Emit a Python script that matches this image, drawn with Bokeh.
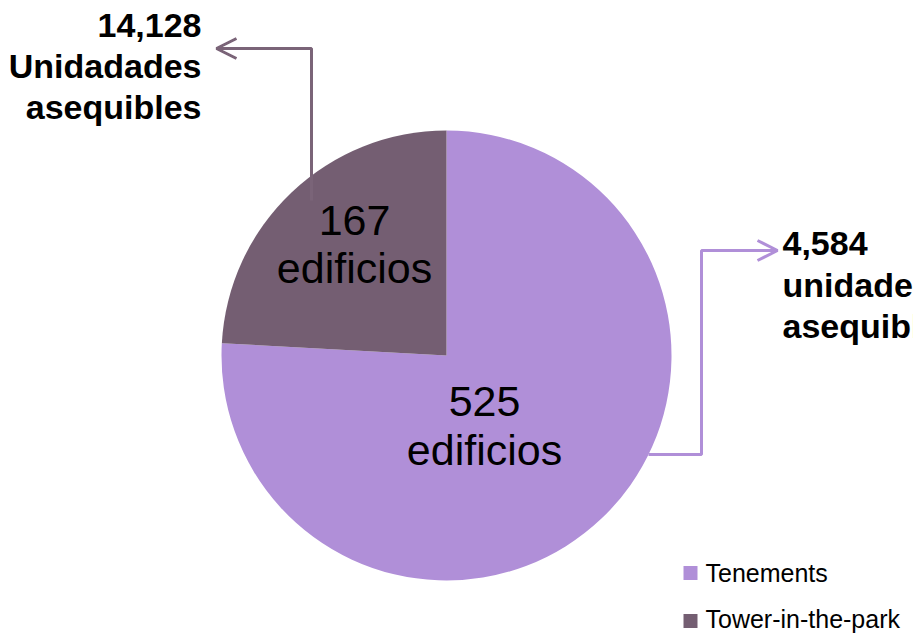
import math
from bokeh.plotting import figure
from bokeh.models import Range1d, ColumnDataSource, Arrow, OpenHead
from bokeh.core.properties import value
from bokeh.embed import file_html
from bokeh.resources import INLINE

# ---- data ----
categories = ["Tenements", "Tower-in-the-park"]
buildings = [525, 167]
units = [4584, 14128]
colors = ["#B08FD8", "#745E72"]
unit_label = ["unidades", "Unidadades"]
unit_label2 = ["asequibles", "asequibles"]
bld_label = "edificios"

W, H = 913, 642
FONT = "Liberation Sans"

p = figure(width=W, height=H, output_backend="svg", toolbar_location=None,
           x_range=Range1d(0, W), y_range=Range1d(0, H), min_border=0)
p.axis.visible = False
p.grid.visible = False
p.outline_line_color = None
p.background_fill_color = "white"

cx, cy, R = 446, 287, 225
total = sum(buildings)
# tower slice starts at top going counter-clockwise
tower_frac = buildings[1] / total
a0 = math.pi / 2
a1 = a0 + 2 * math.pi * tower_frac
starts = [a1, a0]
ends = [a0 + 2 * math.pi, a1]
src = ColumnDataSource(dict(x=[cx, cx], y=[cy, cy], start=starts, end=ends,
                            color=colors, cat=categories))
p.wedge(x="x", y="y", radius=R, radius_units="screen", start_angle="start",
        end_angle="end", direction="anticlock", fill_color="color",
        line_color=None, source=src)

DARK_LINE = "#7A6478"
# tower (dark) leader
p.line([311, 311, 220], [442, 594, 594], line_color=DARK_LINE, line_width=3)
p.add_layout(Arrow(end=OpenHead(size=20, line_color=DARK_LINE, line_width=3),
                   x_start=240, y_start=594, x_end=216, y_end=594,
                   line_color=DARK_LINE, line_width=3))
# tenements (light) leader
p.line([648, 701, 701, 773], [188, 188, 392, 392], line_color=colors[0], line_width=3)
p.add_layout(Arrow(end=OpenHead(size=20, line_color=colors[0], line_width=3),
                   x_start=755, y_start=392, x_end=777, y_end=392,
                   line_color=colors[0], line_width=3))

# unit labels (bold)
p.text(x=[201, 201, 201], y=[617, 577, 536],
       text=[f"{units[1]:,}", unit_label[1], unit_label2[1]],
       text_font=value(FONT), text_font_style="bold", text_font_size="34px",
       text_align="right", text_baseline="middle", text_color="black")
p.text(x=[782, 782, 782], y=[399, 358, 317],
       text=[f"{units[0]:,}", unit_label[0], unit_label2[0]],
       text_font=value(FONT), text_font_style="bold", text_font_size="34px",
       text_align="left", text_baseline="middle", text_color="black")

# building labels inside slices
p.text(x=[354, 354], y=[422.5, 374.5], text=[str(buildings[1]), bld_label],
       text_font=value(FONT), text_font_size="43px", text_align="center",
       text_baseline="middle", text_color="black")
p.text(x=[484, 484], y=[241.5, 192.5], text=[str(buildings[0]), bld_label],
       text_font=value(FONT), text_font_size="43px", text_align="center",
       text_baseline="middle", text_color="black")

# legend
p.scatter(x=[690, 690], y=[69.5, 21.5], marker="square", size=14,
          fill_color=colors, line_color=None)
p.text(x=[705, 705], y=[70, 24], text=categories, text_font=value(FONT),
       text_font_size="25px", text_align="left", text_baseline="middle",
       text_color="black")

open("out.html", "w").write(file_html(p, INLINE))
